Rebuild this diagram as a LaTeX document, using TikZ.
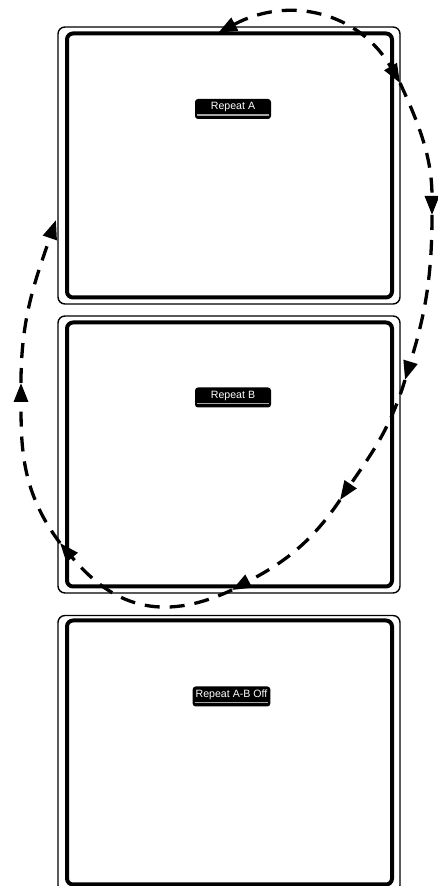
\documentclass[tikz,border=0pt]{standalone}
\usepackage{fontspec}
\setmainfont{Liberation Sans}
\usetikzlibrary{arrows.meta}

\begin{document}
\begin{tikzpicture}[x=1pt,y=1pt,
  frame/.style={draw,line width=1.4pt,rounded corners=7pt,
    minimum width=342pt,minimum height=277pt,inner sep=0pt},
  panel/.style={draw,line width=4pt,rounded corners=6pt,
    minimum width=325pt,minimum height=264pt,inner sep=0pt},
  osd/.style={fill=black,rounded corners=3pt,text=white,
    font=\fontsize{10.6}{12}\selectfont,
    minimum width=76pt,inner xsep=3pt,inner ysep=0pt,
    text height=11pt,text depth=9pt,
    path picture={\draw[gray!70,line width=1.2pt]
      ([shift={(2pt,4pt)}]path picture bounding box.south west) --
      ([shift={(-2pt,4pt)}]path picture bounding box.south east);}},
  flow/.style={line width=3.3pt,dash pattern=on 15pt off 10pt},
  tip/.tip={Triangle[length=19pt,width=14pt]}]
  \useasboundingbox (0,0) rectangle (438,886);
  % three screens
  \node[frame] (scrA) at (229,720.5) {};
  \node[panel] (pnlA) at (229.5,720.5) {};
  \node[frame] (scrB) at (229,431.5) {};
  \node[panel] (pnlB) at (229.5,431.5) {};
  \node[frame] (scrC) at (229,132) {};
  \node[panel] (pnlC) at (229.5,133.5) {};
  \node[osd] (repA) at (233,777) {Repeat A};
  \node[osd] (repB) at (233,488.5) {Repeat B};
  \node[osd] (repOff) at (231.5,189.5) {Repeat A-B Off};
  % loop
  \coordinate (t0) at (218,853);
  \coordinate (a1) at (400,803);
  \coordinate (a2) at (432,671);
  \coordinate (a3) at (405,506);
  \coordinate (a4) at (340,386);
  \coordinate (a5) at (232,296);
  \coordinate (a6) at (60,343);
  \coordinate (a7) at (21,503);
  \coordinate (a8) at (56,666);
  \draw[flow,tip-tip] (t0) to[out=28,in=120,looseness=1.1] (a1);
  \draw[flow,-tip] (a1) to[out=-65,in=90] (a2);
  \draw[flow,-tip] (a2) to[out=-90,in=73] (a3);
  \draw[flow,-tip] (a3) to[out=-107,in=56] (a4);
  \draw[flow,-tip] (a4) to[out=-124,in=28] (a5);
  \draw[flow,-tip] (a5) to[out=-155,in=-50,looseness=1.15] (a6);
  \draw[flow,-tip] (a6) to[out=127,in=-90] (a7);
  \draw[flow,-tip] (a7) to[out=90,in=-109] (a8);
\end{tikzpicture}
\end{document}
